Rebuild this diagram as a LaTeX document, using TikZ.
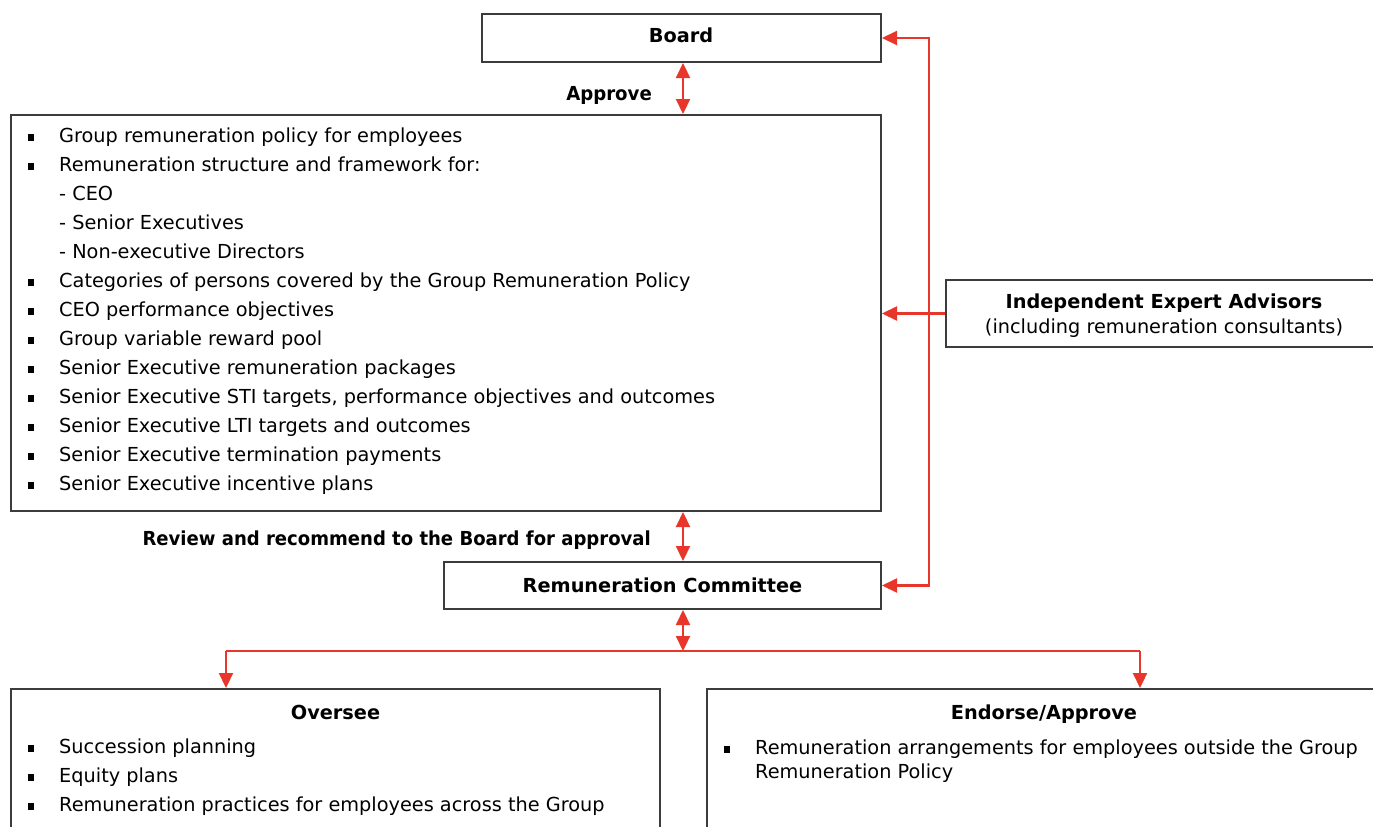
\documentclass[tikz,border=0pt]{standalone}
\usepackage{fontspec}
\setmainfont{DejaVu Sans}
\usetikzlibrary{arrows.meta}
\definecolor{arr}{HTML}{E8372A}
\definecolor{frm}{HTML}{3C3C3C}
\newcommand\bul{\makebox[31pt][l]{\rule[1pt]{6pt}{7pt}}}
\tikzset{
  box/.style={draw=frm, line width=2pt, fill=white, inner sep=0pt, anchor=north west},
  conn/.style={draw=arr, line width=2.2pt, -{Triangle[length=15pt,width=14pt]}},
  conntwo/.style={draw=arr, line width=2.2pt, {Triangle[length=15pt,width=14pt]}-{Triangle[length=15pt,width=14pt]}},
  plain/.style={draw=arr, line width=2.2pt},
  txt/.style={font=\fontsize{19.3}{29}\selectfont, inner sep=0pt, anchor=base west},
  btxt/.style={font=\fontsize{19.3}{29}\selectfont\bfseries, inner sep=0pt},
}
\begin{document}
\begin{tikzpicture}[x=1pt,y=-1pt]
\useasboundingbox (0,0) rectangle (1373,827);
\fill[white] (0,0) rectangle (1373,827);
\begin{scope}
\clip (0,0) rectangle (1373,827);
% boxes
\node[box, minimum width=399pt, minimum height=48pt] (board) at (481,13) {};
\node[btxt] (boardt) at (681,35.5) {Board};
\node[box, minimum width=870pt, minimum height=396pt] (big) at (10,114) {};
\node[box, minimum width=437pt, minimum height=47pt] (rc) at (443,561) {};
\node[btxt] (rct) at (rc.center) {Remuneration Committee};
\node[box, minimum width=438pt, minimum height=67pt] (ind) at (945,279) {};
\node[btxt, anchor=base] (indt) at (1164,308) {Independent Expert Advisors};
\node[txt, anchor=base] (inds) at (1164,333) {(including remuneration consultants)};
\node[box, minimum width=649pt, minimum height=160pt] (ov) at (10,688) {};
\node[box, minimum width=674pt, minimum height=160pt] (en) at (706,688) {};
% labels
\node[btxt, anchor=base east] (appr) at (652,100) {\scalebox{0.94}[1]{Approve}};
\node[btxt, anchor=base east] (revw) at (651,545) {\scalebox{0.935}[1]{Review and recommend to the Board for approval}};
% big box contents
\node[txt] (b1) at (28,142) {\bul Group remuneration policy for employees};
\node[txt] (b2) at (28,171) {\bul Remuneration structure and framework for:};
\node[txt] (b3) at (59,200) {- CEO};
\node[txt] (b4) at (59,229) {- Senior Executives};
\node[txt] (b5) at (59,258) {- Non-executive Directors};
\node[txt] (b6) at (28,287) {\bul Categories of persons covered by the Group Remuneration Policy};
\node[txt] (b7) at (28,316) {\bul CEO performance objectives};
\node[txt] (b8) at (28,345) {\bul Group variable reward pool};
\node[txt] (b9) at (28,374) {\bul Senior Executive remuneration packages};
\node[txt] (b10) at (28,403) {\bul Senior Executive STI targets, performance objectives and outcomes};
\node[txt] (b11) at (28,432) {\bul Senior Executive LTI targets and outcomes};
\node[txt] (b12) at (28,461) {\bul Senior Executive termination payments};
\node[txt] (b13) at (28,490) {\bul Senior Executive incentive plans};
% oversee
\node[btxt, anchor=base] (ovt) at (ov.north |- 0,719) {Oversee};
\node[txt] (o1) at (28,753) {\bul Succession planning};
\node[txt] (o2) at (28,782) {\bul Equity plans};
\node[txt] (o3) at (28,811) {\bul Remuneration practices for employees across the Group};
% endorse
\node[btxt, anchor=base] (ent) at (en.north |- 0,719) {Endorse/Approve};
\node[txt] (e1) at (724,754) {\bul Remuneration arrangements for employees outside the Group};
\node[txt] (e2) at (755,778) {Remuneration Policy};
% connectors
\coordinate (ax) at (683,0);
\coordinate (vx) at (929,0);
\coordinate (ol) at (226,651);
\coordinate (or) at (1140,651);
\draw[conntwo] (board.south -| ax) -- (big.north -| ax);
\draw[conntwo] (big.south -| ax) -- (rc.north -| ax);
\draw[conntwo] (rc.south -| ax) -- (ol -| ax);
\draw[plain] (ol) -- (or);
\draw[conn] (ol) -- (ol |- ov.north);
\draw[conn] (or) -- (or |- en.north);
\draw[conntwo] (board.east) -- (board.east -| vx) -- (rc.east -| vx) -- (rc.east);
\draw[conn] (ind.west) -- (big.east |- ind.west);
\end{scope}
\end{tikzpicture}
\end{document}
